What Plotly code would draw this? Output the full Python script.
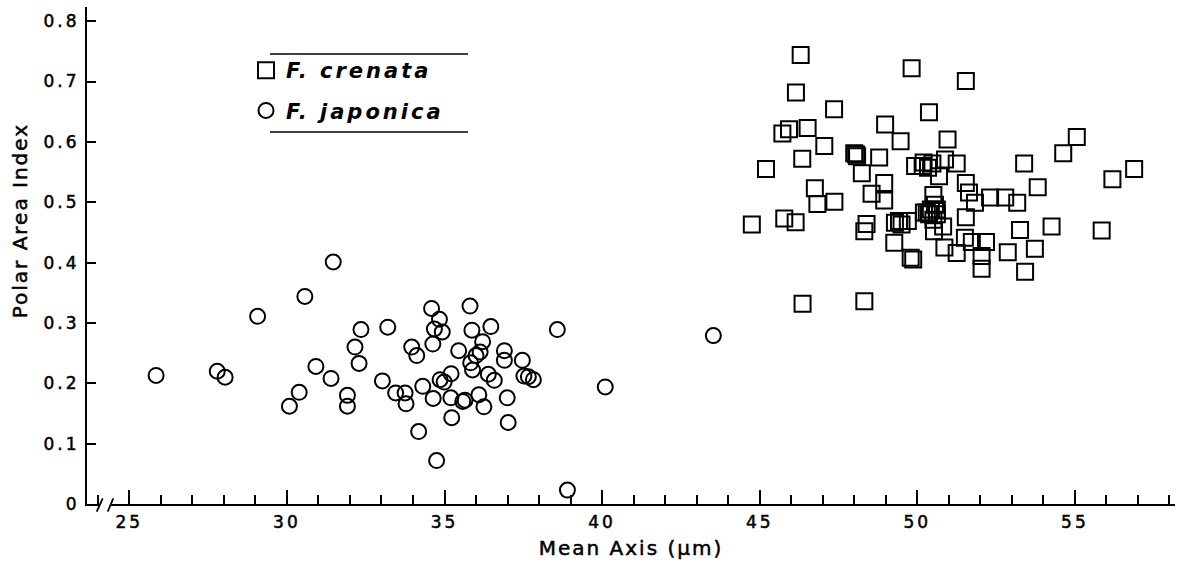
import plotly.graph_objects as go

# ---------------- data ----------------
japonica_x = [25.85, 27.79, 28.04, 29.07, 30.57, 31.47, 30.92, 31.40, 30.39, 30.08,
              31.92, 31.92, 32.35, 32.16, 32.29, 33.20, 33.03, 33.45, 33.75, 33.78,
              33.96, 34.12, 34.18, 34.31, 34.59, 34.84, 34.68, 34.93, 34.63, 35.81,
              35.87, 36.47, 36.21, 35.45, 36.13, 36.00, 35.83, 35.89, 36.90, 36.90,
              37.47, 36.39, 36.58, 35.21, 34.86, 34.99, 34.64, 35.20, 35.65, 35.58,
              36.09, 36.25, 36.99, 35.23, 37.02, 34.75, 37.52, 37.66, 37.82, 38.58,
              40.10, 43.53, 38.90]
japonica_y = [0.213, 0.220, 0.210, 0.311, 0.344, 0.401, 0.228, 0.208, 0.185, 0.162,
              0.180, 0.162, 0.289, 0.260, 0.233, 0.293, 0.204, 0.184, 0.184, 0.166,
              0.260, 0.246, 0.120, 0.195, 0.324, 0.306, 0.290, 0.285, 0.265, 0.328,
              0.288, 0.294, 0.269, 0.254, 0.252, 0.246, 0.234, 0.222, 0.254, 0.238,
              0.238, 0.215, 0.205, 0.216, 0.206, 0.202, 0.175, 0.176, 0.172, 0.170,
              0.181, 0.161, 0.176, 0.143, 0.135, 0.072, 0.212, 0.211, 0.206, 0.289,
              0.194, 0.279, 0.023]

crenata_x = [46.30, 49.82, 51.54, 46.15, 47.36, 50.37, 45.72, 45.93, 46.52, 47.05,
             48.98, 49.47, 50.96, 45.20, 46.35, 48.06, 48.00, 48.09, 48.79, 48.24,
             48.95, 48.55, 48.95, 46.75, 46.83, 47.37, 44.75, 45.78, 46.14, 48.39,
             48.32, 49.29, 49.42, 49.70, 49.27, 49.79, 49.87, 46.36, 48.32, 49.93,
             50.88, 50.69, 50.51, 50.21, 50.62, 50.53, 50.82, 50.86, 51.25, 55.06,
             54.63, 53.39, 51.25, 50.48, 50.17, 51.54, 51.64, 51.83, 52.31, 52.79,
             53.17, 53.82, 56.19, 56.88, 50.43, 50.30, 50.62, 50.51, 49.50, 51.54,
             51.51, 51.73, 52.18, 53.26, 54.26, 55.85, 52.04, 52.04, 52.87, 53.73,
             53.42, 50.34, 50.37, 50.56, 50.20]
crenata_y = [0.744, 0.722, 0.701, 0.682, 0.654, 0.649, 0.614, 0.621, 0.623, 0.593,
             0.629, 0.601, 0.604, 0.555, 0.572, 0.579, 0.581, 0.576, 0.574, 0.548,
             0.532, 0.514, 0.503, 0.523, 0.497, 0.501, 0.463, 0.473, 0.467, 0.464,
             0.452, 0.466, 0.469, 0.469, 0.433, 0.408, 0.405, 0.332, 0.336, 0.560,
             0.571, 0.543, 0.512, 0.483, 0.480, 0.452, 0.460, 0.425, 0.416, 0.608,
             0.581, 0.564, 0.564, 0.564, 0.560, 0.532, 0.516, 0.499, 0.508, 0.508,
             0.499, 0.525, 0.538, 0.555, 0.488, 0.483, 0.488, 0.471, 0.463, 0.475,
             0.441, 0.434, 0.434, 0.454, 0.460, 0.453, 0.411, 0.390, 0.417, 0.423,
             0.385, 0.557, 0.480, 0.496, 0.566]

x_tickvals = [25, 30, 35, 40, 45, 50, 55]
y_tickvals = [0, 0.1, 0.2, 0.3, 0.4, 0.5, 0.6, 0.7, 0.8]
y_ticktext = ["0", "0.1", "0.2", "0.3", "0.4", "0.5", "0.6", "0.7", "0.8"]

series_names = ["<b><i>F. crenata</i></b>", "<b><i>F. japonica</i></b>"]
x_title = "Mean Axis (µm)"
y_title = "Polar Area Index"

# ---------------- layout geometry ----------------
W, H = 1186, 568
ML, MR, MT, MB = 87, 11, 7, 64
PW, PH = W - ML - MR, H - MT - MB
FONT = "DejaVu Sans"


def px(xp):
    return (xp - ML) / PW


def py(yp):
    return (H - MB - yp) / PH


fig = go.Figure()

fig.add_trace(go.Scatter(
    x=crenata_x, y=crenata_y, mode="markers", name=series_names[0],
    legendgroup="a",
    marker=dict(symbol="square", size=16, color="rgba(0,0,0,0)",
                line=dict(color="black", width=2)),
))
fig.add_trace(go.Scatter(
    x=japonica_x, y=japonica_y, mode="markers", name=series_names[1],
    legendgroup="b",
    marker=dict(symbol="circle", size=15, color="rgba(0,0,0,0)",
                line=dict(color="black", width=2)),
))

shapes = [
    # legend rules
    dict(type="line", xref="paper", yref="paper", x0=px(270), x1=px(468),
         y0=py(54), y1=py(54), line=dict(color="black", width=1.5)),
    dict(type="line", xref="paper", yref="paper", x0=px(270), x1=px(468),
         y0=py(132), y1=py(132), line=dict(color="black", width=1.5)),
    # axis break
    dict(type="rect", xref="paper", yref="paper", x0=px(99.5), x1=px(110.5),
         y0=py(509), y1=py(494), fillcolor="white", line=dict(width=0),
         layer="above"),
    dict(type="line", xref="paper", yref="paper", x0=px(96.7), x1=px(102.7),
         y0=py(511.7), y1=py(498.3), line=dict(color="black", width=1.8),
         layer="above"),
    dict(type="line", xref="paper", yref="paper", x0=px(107.7), x1=px(113.3),
         y0=py(511.7), y1=py(498.3), line=dict(color="black", width=1.8),
         layer="above"),
]

fig.update_layout(
    width=W, height=H,
    margin=dict(l=ML, r=MR, t=MT, b=MB),
    paper_bgcolor="white", plot_bgcolor="white",
    font=dict(family=FONT, color="black", size=17),
    showlegend=True,
    legend=dict(x=px(246), y=py(50), xanchor="left", yanchor="top",
                bgcolor="rgba(0,0,0,0)", borderwidth=0,
                font=dict(family=FONT, size=21, color="black"),
                traceorder="grouped", tracegroupgap=10),
    shapes=shapes,
    annotations=[dict(text=y_title, xref="paper", yref="y", x=px(20), y=0.47,
                      xanchor="center", yanchor="middle", textangle=-90,
                      showarrow=False, font=dict(family=FONT, size=20, color="black"))],
    xaxis=dict(range=[23.658, 58.176], tickvals=x_tickvals, ticks="inside",
               ticklen=14, tickwidth=2, tickcolor="black",
               minor=dict(dtick=1, tick0=25, ticks="inside", ticklen=9,
                          tickwidth=1.5, tickcolor="black"),
               showline=True, linewidth=2, linecolor="black",
               showgrid=False, zeroline=False,
               ticklabelstandoff=2,
               tickfont=dict(family=FONT, size=17, color="black"),
               title=dict(text=x_title, standoff=10,
                          font=dict(family=FONT, size=20, color="black"))),
    yaxis=dict(range=[0, 0.8235], tickvals=y_tickvals, ticktext=y_ticktext,
               ticks="inside", ticklen=9, tickwidth=2, tickcolor="black",
               showline=True, linewidth=2, linecolor="black",
               showgrid=False, zeroline=False,
               ticklabelstandoff=2,
               tickfont=dict(family=FONT, size=17, color="black")),
)

post = """
var gd = document.getElementById('{plot_id}');
function applySpacing(){
  gd.querySelectorAll('.xtick text, .ytick text').forEach(function(t){
    t.style.letterSpacing = '3px'; t.style.stroke = 'black'; t.style.strokeWidth = '0.5px'; });
  gd.querySelectorAll('.legendtext').forEach(function(t){ t.style.letterSpacing = '3px'; });
  gd.querySelectorAll('.legend .scrollbox, .legend [clip-path]').forEach(function(s){
    s.removeAttribute('clip-path'); });
  gd.querySelectorAll('.annotation-text, .g-xtitle text').forEach(function(t){
    t.style.letterSpacing = '2px'; t.style.stroke = 'black'; t.style.strokeWidth = '0.5px'; });
}
applySpacing();
gd.on('plotly_afterplot', applySpacing);
"""

fig.write_html("out.html", post_script=post)
